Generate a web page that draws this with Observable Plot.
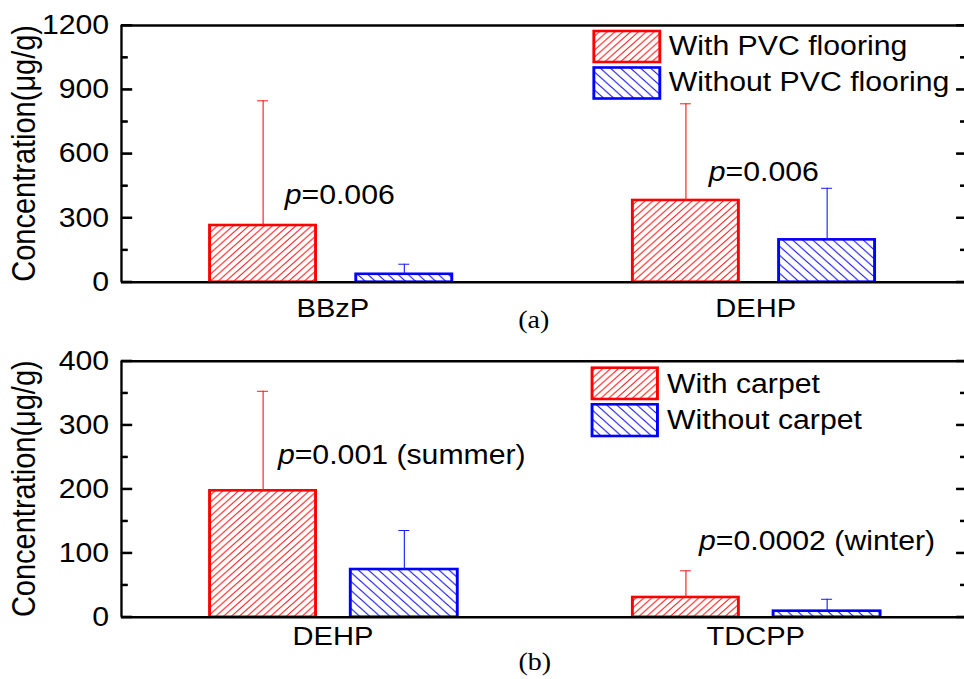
<!DOCTYPE html>
<html>
<head>
<meta charset="utf-8">
<script src="https://cdn.jsdelivr.net/npm/d3@7"></script>
<script src="https://cdn.jsdelivr.net/npm/@observablehq/plot@0.6"></script>
<style>
  body { margin: 0; background: #fff; }
  #wrap { width: 964px; height: 679px; overflow: hidden; position: relative; background: #fff; }
  #wrap svg.panel { display: block; max-width: none; }
</style>
</head>
<body>
<svg width="0" height="0" style="position:absolute">
  <defs>
    <pattern id="hatchRed" patternUnits="userSpaceOnUse" width="7" height="7">
      <path d="M-1,1 l2,-2 M0,7 l7,-7 M6,8 l2,-2" stroke="#ff2020" stroke-width="1" fill="none"/>
    </pattern>
    <pattern id="hatchBlue" patternUnits="userSpaceOnUse" width="9" height="9">
      <path d="M-1,8 l2,2 M0,0 l9,9 M8,-1 l2,2" stroke="#1a1aff" stroke-width="1" fill="none"/>
    </pattern>
  </defs>
</svg>
<div id="wrap"></div>
<script>
// ---------- data ----------
const categoriesA = ["BBzP", "DEHP"];
const seriesA = ["With PVC flooring", "Without PVC flooring"];
const withPVC = [265, 382];
const withPVCErr = [583, 452];
const withoutPVC = [37, 198];
const withoutPVCErr = [47, 241];
const pTextsA = ["=0.006", "=0.006"];
const yTicksA = [0, 300, 600, 900, 1200];
const yMinorA = [150, 450, 750, 1050];

const categoriesB = ["DEHP", "TDCPP"];
const seriesB = ["With carpet", "Without carpet"];
const withCarpet = [197.5, 30.8];
const withCarpetErr = [155.5, 41.7];
const withoutCarpet = [74.5, 9.4];
const withoutCarpetErr = [61, 18.6];
const pTextsB = ["=0.001 (summer)", "=0.0002 (winter)"];
const yTicksB = [0, 100, 200, 300, 400];
const yMinorB = [50, 150, 250, 350];

const yTitle = "Concentration(\u03bcg/g)";

// ---------- layout ----------
const W = 861;          // drawing width; stretched to 964 px via viewBox
const SCREEN_W = 964;
const ML = 108;
const X_DOMAIN = [0.5, 2.494];
const UNIT_PX = (W - ML) / (X_DOMAIN[1] - X_DOMAIN[0]);
const OFFSETS = [-0.165, 0.169];
const FONT = "'Liberation Sans', Arial, Helvetica, sans-serif";

function drawPanel(cfg) {
  const rows = [];
  cfg.categories.forEach((c, i) => {
    cfg.values.forEach((vals, j) => rows.push({i, j, value: vals[i], err: cfg.errors[j][i]}));
  });
  const pos = d => d.i + 1 + OFFSETS[d.j];
  const fills = ["url(#hatchRed)", "url(#hatchBlue)"];
  const strokes = ["#ff0000", "#0000ff"];
  const errStrokes = ["#ff1a1a", "#1a1aff"];
  const cap = 0.013;
  const marks = [];
  for (let j = 0; j < 2; j++) {
    const sub = rows.filter(d => d.j === j);
    const hw = cfg.barWidths[j] / 2;
    marks.push(Plot.rect(sub, {x1: d => pos(d) - hw, x2: d => pos(d) + hw, y1: d => 0, y2: d => d.value,
      fill: fills[j], stroke: strokes[j], strokeWidth: 2.6}));
    marks.push(Plot.ruleX(sub, {x: pos, y1: d => d.value, y2: d => d.value + d.err, stroke: errStrokes[j], strokeWidth: 1}));
    marks.push(Plot.ruleY(sub, {y: d => d.value + d.err, x1: d => pos(d) - cap, x2: d => pos(d) + cap, stroke: errStrokes[j], strokeWidth: 1}));
  }
  const ann = cfg.pTexts.map((t, k) => ({label: t, x: cfg.annX[k], y: cfg.annY[k]}));
  marks.push(Plot.text(ann, {x: "x", y: "y", text: () => "p", fontStyle: "italic", textAnchor: "start", fontSize: 27}));
  marks.push(Plot.text(ann, {x: "x", y: "y", text: "label", textAnchor: "start", fontSize: 27, dx: 15}));
  // inward tick marks on left and right frame edges
  const L0 = X_DOMAIN[0], R0 = X_DOMAIN[1];
  marks.push(Plot.ruleY(cfg.yTicks, {y: d => d, x1: d => L0, x2: d => L0 + 10 / UNIT_PX, stroke: "black", strokeWidth: 2}));
  marks.push(Plot.ruleY(cfg.yMinor, {y: d => d, x1: d => L0, x2: d => L0 + 6 / UNIT_PX, stroke: "black", strokeWidth: 2}));
  marks.push(Plot.ruleY(cfg.yTicks, {y: d => d, x1: d => R0 - 7 / UNIT_PX, x2: d => R0, stroke: "black", strokeWidth: 2}));
  marks.push(Plot.ruleY(cfg.yMinor, {y: d => d, x1: d => R0 - 3.5 / UNIT_PX, x2: d => R0, stroke: "black", strokeWidth: 2}));
  // frame
  marks.push(Plot.ruleY([0, cfg.yMax], {stroke: "black", strokeWidth: 2.4}));
  marks.push(Plot.ruleX([X_DOMAIN[0]], {stroke: "black", strokeWidth: 2.1}));
  // y tick labels
  marks.push(Plot.text(cfg.yTicks, {y: d => d, text: d => String(d), frameAnchor: "left", textAnchor: "end", dx: -11, fontSize: 27}));
  // category labels
  marks.push(Plot.axisX({anchor: "bottom", ticks: [1, 2], tickFormat: v => cfg.categories[Math.round(v) - 1], tickSize: 0, tickPadding: cfg.catPadding, label: null, fontSize: 26}));

  const svg = Plot.plot({
    width: W,
    height: cfg.height,
    marginTop: cfg.marginTop,
    marginBottom: cfg.marginBottom,
    marginLeft: ML,
    marginRight: 0,
    x: {type: "linear", domain: X_DOMAIN, axis: null},
    y: {domain: [0, cfg.yMax], axis: null},
    style: {fontFamily: FONT, fontSize: "26px", color: "black", background: "white"},
    marks
  });
  svg.classList.add("panel");
  // horizontal stretch through the viewBox instead of a CSS transform
  svg.setAttribute("viewBox", `0 0 ${W} ${cfg.height}`);
  svg.setAttribute("preserveAspectRatio", "none");
  svg.setAttribute("width", SCREEN_W);
  svg.setAttribute("height", cfg.height);
  svg.style.width = SCREEN_W + "px";
  svg.style.height = cfg.height + "px";
  svg.style.maxWidth = "none";
  svg.style.overflow = "visible";

  const s = d3.select(svg);
  const yScale = svg.scale("y");
  const tg = s.append("g").attr("fill", "black").attr("stroke", "none");
  const addTicks = (vals, len, xEdge, dir) => {
    vals.forEach(v => {
      const yy = yScale.apply(v);
      tg.append("rect")
        .attr("x", dir > 0 ? xEdge : xEdge - len)
        .attr("y", yy - 1)
        .attr("width", len)
        .attr("height", 2);
    });
  };
  addTicks(cfg.yTicks, 10, ML, 1);
  addTicks(cfg.yMinor, 6, ML, 1);
  addTicks(cfg.yTicks, 7, W, -1);
  addTicks(cfg.yMinor, 3.5, W, -1);

  const midY = (cfg.marginTop + cfg.height - cfg.marginBottom) / 2;
  s.append("text")
    .attr("transform", `translate(31.6,${midY}) rotate(-90)`)
    .attr("text-anchor", "middle")
    .attr("font-family", FONT).attr("font-size", 29).attr("fill", "black")
    .text(yTitle);
  const lg = s.append("g").attr("text-anchor", "start");
  const lfills = ["url(#hatchRed)", "url(#hatchBlue)"];
  const lstrokes = ["#ff0000", "#0000ff"];
  cfg.series.forEach((name, j) => {
    const L = cfg.legend[j];
    lg.append("rect").attr("x", L.bx).attr("y", L.by).attr("width", L.bw).attr("height", L.bh)
      .attr("fill", lfills[j]).attr("stroke", lstrokes[j]).attr("stroke-width", 2.6);
    lg.append("text").attr("x", L.tx).attr("y", L.ty).attr("text-anchor", "start")
      .attr("font-family", FONT).attr("font-size", 27).attr("fill", "black").text(name);
  });
  s.append("text").attr("x", cfg.tagX).attr("y", cfg.tagY).attr("text-anchor", "middle")
    .attr("font-family", "'Liberation Serif', 'Times New Roman', serif").attr("font-size", 25).attr("fill", "black")
    .text(cfg.tag);
  return svg;
}

const wrap = document.getElementById("wrap");
wrap.appendChild(drawPanel({
  categories: categoriesA, series: seriesA,
  values: [withPVC, withoutPVC], errors: [withPVCErr, withoutPVCErr],
  yMax: 1200, yTicks: yTicksA, yMinor: yMinorA,
  barWidths: [0.2507, 0.227],
  pTexts: pTextsA, annX: [0.886, 1.889], annY: [406, 515],
  height: 340, marginTop: 25, marginBottom: 58.3, catPadding: 16,
  legend: [
    {bx: 530.4, by: 31, bw: 58.9, bh: 31, tx: 597.3, ty: 55},
    {bx: 530.4, by: 67.5, bw: 58.9, bh: 31, tx: 597.3, ty: 91.5}
  ],
  tag: "(a)", tagX: 476.8, tagY: 328.5
}));
wrap.appendChild(drawPanel({
  categories: categoriesB, series: seriesB,
  values: [withCarpet, withoutCarpet], errors: [withCarpetErr, withoutCarpetErr],
  yMax: 400, yTicks: yTicksB, yMinor: yMinorB,
  barWidths: [0.2507, 0.253],
  pTexts: pTextsB, annX: [0.870, 1.866], annY: [253, 118.75],
  height: 339, marginTop: 20.7, marginBottom: 62.3, catPadding: 9.5,
  legend: [
    {bx: 528.8, by: 27.7, bw: 58.4, bh: 31.3, tx: 595.8, ty: 53.3},
    {bx: 528.8, by: 64.3, bw: 58.4, bh: 31.7, tx: 595.8, ty: 89.3}
  ],
  tag: "(b)", tagX: 477.7, tagY: 330
}));
</script>
</body>
</html>
